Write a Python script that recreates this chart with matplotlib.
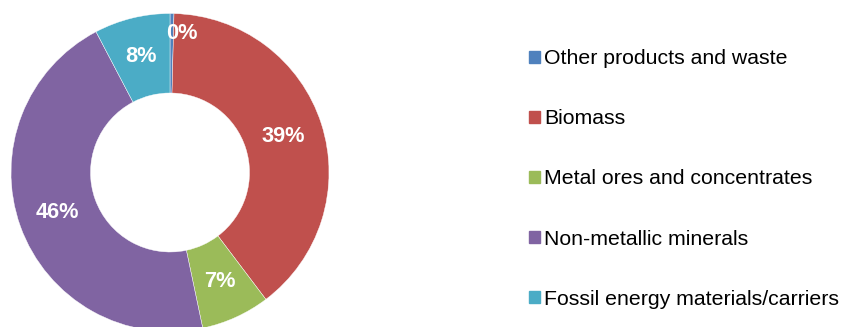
import matplotlib
matplotlib.use('Agg')
import matplotlib.pyplot as plt
import matplotlib.patches as mpatches
import numpy as np

categories = ['Other products and waste', 'Biomass', 'Metal ores and concentrates',
              'Non-metallic minerals', 'Fossil energy materials/carriers']
shares = [0.4, 39.3, 7.0, 45.6, 7.7]
colors = ['#4F81BD', '#C0504D', '#9BBB59', '#8064A2', '#4BACC6']

plt.rcParams['font.family'] = ['Liberation Sans', 'DejaVu Sans']

fig = plt.figure(figsize=(8.43, 3.27), dpi=100)

# donut: centre (170, 172.5) px from top-left, outer radius 159 px
W, H = 843, 327
R = 159
cx, cy = 170, H - 172.5
ax = fig.add_axes([(cx - R) / W, (cy - R) / H, 2 * R / W, 2 * R / H])
wedges, texts, autotexts = ax.pie(
    shares, colors=colors, startangle=90, counterclock=False, radius=1,
    wedgeprops=dict(width=0.5, edgecolor='white', linewidth=0.3),
    autopct='%.0f%%', pctdistance=0.75,
    textprops=dict(color='white', fontsize=15.7, fontweight='bold'))
ax.set_xlim(-1, 1)
ax.set_ylim(-1, 1)
ax.set_aspect('equal')
ax.axis('off')

# tiny slice label sits further out, like the original
for w, t, s in zip(wedges, autotexts, shares):
    if s < 1:
        ang = np.deg2rad((w.theta1 + w.theta2) / 2 - 4)
        t.set_position((0.88 * np.cos(ang), 0.88 * np.sin(ang)))

handles = [mpatches.Patch(color=c, label=l) for c, l in zip(colors, categories)]
fig.legend(handles=handles, loc='center left', bbox_to_anchor=(529 / W, 148 / H),
           frameon=False, fontsize=15.3, handlelength=0.52, handleheight=0.52,
           handletextpad=0.2, labelspacing=1.93, borderpad=0, borderaxespad=0)

fig.savefig('out.png', dpi=100)
